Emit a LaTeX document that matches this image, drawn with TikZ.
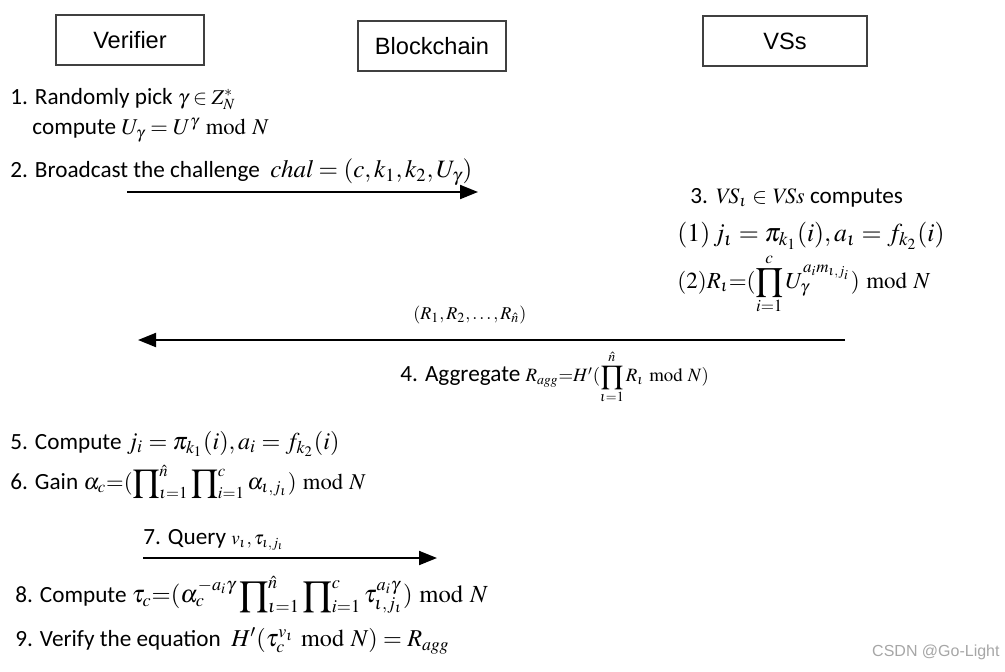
\documentclass[tikz,border=0pt]{standalone}
\usepackage{mathptmx}
\usepackage[no-math]{fontspec}
\setmainfont{Carlito}
\newfontfamily\arialf{Liberation Sans}
\usetikzlibrary{arrows.meta}
\newcommand\mth[2]{{\fontsize{#1}{#1}\selectfont$#2$}}
\tikzset{
  hdr/.style={draw=black!75, line width=0.7pt, minimum width=74pt, minimum height=25pt, inner sep=0pt, font=\arialf\fontsize{11.8}{13}\selectfont},
  txt/.style={anchor=west, inner sep=0pt, font=\fontsize{11.6}{13}\selectfont, align=left},
  msg/.style={line width=1pt, -{Triangle[length=9pt,width=7pt]}},
  wm/.style={anchor=east, inner sep=0pt, text=black!35, font=\arialf\fontsize{8}{9}\selectfont}
}
\begin{document}
\begin{tikzpicture}[x=0.5pt,y=-0.5pt]
\useasboundingbox (0,0) rectangle (1005,671);
\node[hdr] (ver) at (130,40) {Verifier};
\node[hdr] (bc) at (432,46) {Blockchain};
\node[hdr, minimum width=82pt] (vss) at (785,41) {VSs};

\node[txt] (s1) at (10,99) {1. Randomly pick \mth{10.5}{\gamma\in Z_N^{*}}};
\node[txt] (s1b) at (32,130) {compute \mth{11.3}{U_\gamma = U^{\gamma} \bmod N}};
\node[txt] (s2) at (10,172) {2. Broadcast the challenge \ \mth{12.5}{\mathit{chal}=(c,k_1,k_2,U_\gamma)}};
\coordinate (a1s) at (127,192);
\coordinate (a1e) at (478,192);
\draw[msg] (a1s) -- (a1e);

\node[txt] (s3) at (690,198) {3. \mth{11}{\mathit{VS}_\iota\in \mathit{VSs}} computes};
\node[txt] (s3a) at (677,236) {\mth{12.9}{(1)\, j_\iota=\pi_{k_1}(i), a_\iota=f_{k_2}(i)}};
\node[txt] (s3b) at (677,284) {\mth{11.5}{(2)R_\iota{=}(\displaystyle\prod_{i=1}^{c} U_\gamma^{a_i m_{\iota,j_i}})\bmod N}};

\node[txt] (rs) at (413,315) {\mth{9}{(R_1,R_2,\ldots,R_{\hat n})}};
\coordinate (a2s) at (845,340);
\coordinate (a2e) at (138,340);
\draw[msg] (a2s) -- (a2e);
\node[txt] (s4) at (400,377) {4. Aggregate \mth{9.4}{R_{agg}{=}H'(\displaystyle\prod_{\iota=1}^{\hat n} R_\iota \bmod N)}};

\node[txt] (s5) at (10,444) {5. Compute \mth{12.1}{j_i=\pi_{k_1}(i), a_i=f_{k_2}(i)}};
\node[txt] (s6) at (10,482) {6. Gain \mth{11.3}{\alpha_c{=}(\displaystyle\prod\nolimits_{\iota=1}^{\hat n}\prod\nolimits_{i=1}^{c}\alpha_{\iota,j_\iota})\bmod N}};

\node[txt] (s7) at (143,540) {7. Query \mth{9.5}{v_\iota, \tau_{\iota,j_\iota}}};
\coordinate (a3s) at (143,558);
\coordinate (a3e) at (437,558);
\draw[msg] (a3s) -- (a3e);

\node[txt] (s8) at (15,595) {8. Compute \mth{12.3}{\tau_c{=}(\alpha_c^{-a_i\gamma}\displaystyle\prod\nolimits_{\iota=1}^{\hat n}\prod\nolimits_{i=1}^{c}\tau_{\iota,j_\iota}^{a_i\gamma})\bmod N}};
\node[txt] (s9) at (15,641) {9. Verify the equation \ \mth{12.1}{H'(\tau_c^{v_\iota}\bmod N)=R_{agg}}};

\node[wm] (wmk) at (1000,652) {CSDN @Go-Light};
\end{tikzpicture}
\end{document}
